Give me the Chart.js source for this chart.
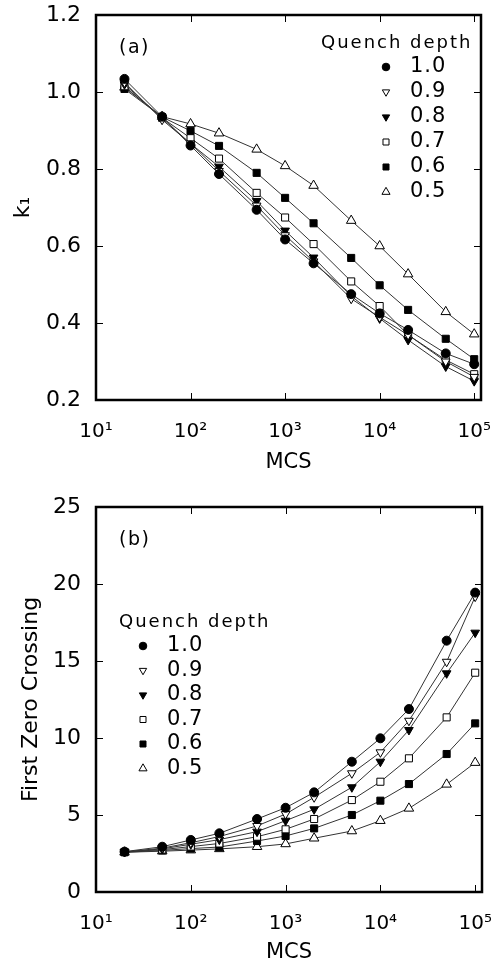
<!DOCTYPE html>
<html>
<head>
<meta charset="utf-8">
<script src="https://cdn.jsdelivr.net/npm/chart.js@4.4.0/dist/chart.umd.min.js"></script>
<style>
  html, body { margin: 0; padding: 0; background: #fff; }
  canvas { display: block; }
</style>
</head>
<body>
<canvas id="panelA" width="497" height="482"></canvas>
<canvas id="panelB" width="497" height="483"></canvas>
<script>
// --- Data ---
const mcs = [20, 50, 100, 200, 500, 1000, 2000, 5000, 10000, 20000, 50000, 100000];
const depths = ["1.0", "0.9", "0.8", "0.7", "0.6", "0.5"];
const decadeTicks = [10, 100, 1000, 10000, 100000];

// (a) k1 vs MCS
const k1_d10 = [1.034, 0.936, 0.861, 0.787, 0.694, 0.617, 0.555, 0.475, 0.425, 0.382, 0.321, 0.293];
const k1_d09 = [1.025, 0.928, 0.866, 0.795, 0.705, 0.628, 0.560, 0.463, 0.415, 0.369, 0.300, 0.260];
const k1_d08 = [1.020, 0.932, 0.866, 0.806, 0.717, 0.640, 0.570, 0.470, 0.412, 0.356, 0.287, 0.249];
const k1_d07 = [1.015, 0.933, 0.880, 0.827, 0.738, 0.674, 0.605, 0.508, 0.444, 0.369, 0.304, 0.267];
const k1_d06 = [1.008, 0.935, 0.899, 0.860, 0.790, 0.725, 0.659, 0.569, 0.498, 0.434, 0.359, 0.306];
const k1_d05 = [1.012, 0.936, 0.917, 0.893, 0.851, 0.808, 0.757, 0.666, 0.600, 0.527, 0.429, 0.371];

// (b) first zero crossing vs MCS
const fz_d10 = [2.62, 2.94, 3.38, 3.81, 4.74, 5.47, 6.47, 8.46, 9.98, 11.88, 16.32, 19.44];
const fz_d09 = [2.60, 2.85, 3.20, 3.60, 4.29, 5.06, 6.15, 7.71, 9.07, 11.12, 14.95, 19.18];
const fz_d08 = [2.60, 2.80, 3.10, 3.40, 3.92, 4.63, 5.37, 6.80, 8.46, 10.52, 14.20, 16.84];
const fz_d07 = [2.60, 2.75, 2.95, 3.15, 3.59, 4.07, 4.74, 5.97, 7.16, 8.68, 11.34, 14.24];
const fz_d06 = [2.58, 2.70, 2.82, 2.92, 3.31, 3.64, 4.13, 5.00, 5.93, 7.01, 8.96, 10.95];
const fz_d05 = [2.58, 2.65, 2.72, 2.80, 2.94, 3.12, 3.49, 3.96, 4.63, 5.43, 6.99, 8.40];

// --- Marker look for each quench depth ---
const markers = [
  { style: "circle",   fill: true,  r: 4.5, rot: 0 },
  { style: "triangle", fill: false, r: 5,   rot: 180 },
  { style: "triangle", fill: true,  r: 5,   rot: 180 },
  { style: "rect",     fill: false, r: 5,   rot: 0 },
  { style: "rect",     fill: true,  r: 5,   rot: 0 },
  { style: "triangle", fill: false, r: 5.5, rot: 0 }
];

const FONT = "'DejaVu Sans', sans-serif";
const SUP = { 1: "\u00b9", 2: "\u00b2", 3: "\u00b3", 4: "\u2074", 5: "\u2075" };

function drawMarker(ctx, m, x, y, scale) {
  const r = m.r * (scale || 1);
  ctx.beginPath();
  if (m.style === "circle") {
    ctx.arc(x, y, r, 0, Math.PI * 2);
  } else if (m.style === "rect") {
    const s = Math.SQRT1_2 * r;
    ctx.rect(x - s, y - s, 2 * s, 2 * s);
  } else {
    let a = m.rot * Math.PI / 180;
    ctx.moveTo(x + Math.sin(a) * r, y - Math.cos(a) * r);
    a += 2 * Math.PI / 3;
    ctx.lineTo(x + Math.sin(a) * r, y - Math.cos(a) * r);
    a += 2 * Math.PI / 3;
    ctx.lineTo(x + Math.sin(a) * r, y - Math.cos(a) * r);
    ctx.closePath();
  }
  ctx.fillStyle = m.fill ? "#000" : "#fff";
  ctx.fill();
  ctx.lineWidth = 1;
  ctx.strokeStyle = "#000";
  ctx.stroke();
}

// frame + inward ticks on all four sides
const framePlugin = {
  id: "frame",
  afterDatasetsDraw(chart) {
    const { ctx, chartArea: a, scales } = chart;
    ctx.save();
    ctx.strokeStyle = "#000";
    ctx.lineWidth = 1;
    const len = 7;
    ctx.beginPath();
    scales.x.ticks.forEach(t => {
      const px = Math.round(scales.x.getPixelForValue(t.value)) + 0.5;
      ctx.moveTo(px, a.bottom); ctx.lineTo(px, a.bottom - len);
      ctx.moveTo(px, a.top); ctx.lineTo(px, a.top + len);
    });
    scales.y.ticks.forEach(t => {
      const py = Math.round(scales.y.getPixelForValue(t.value)) + 0.5;
      ctx.moveTo(a.left, py); ctx.lineTo(a.left + len, py);
      ctx.moveTo(a.right, py); ctx.lineTo(a.right - len, py);
    });
    ctx.stroke();
    ctx.lineWidth = 2.5;
    ctx.strokeRect(a.left, a.top, a.right - a.left, a.bottom - a.top);
    ctx.restore();
  }
};

// in-plot legend ("Quench depth") and panel tag
const legendPlugin = {
  id: "quench",
  afterDraw(chart, args, o) {
    const ctx = chart.ctx;
    ctx.save();
    ctx.fillStyle = "#000";
    ctx.textBaseline = "middle";
    ctx.textAlign = "left";
    ctx.letterSpacing = "1.5px";
    ctx.font = "19px " + FONT;
    ctx.fillText(o.tag, o.tagX, o.tagY);
    ctx.font = "18px " + FONT;
    ctx.letterSpacing = "2px";
    ctx.fillText("Quench depth", o.titleX, o.titleY);
    ctx.font = "21px " + FONT;
    ctx.letterSpacing = "1px";
    depths.forEach((d, i) => {
      const y = o.y0 + i * o.step;
      drawMarker(ctx, markers[i], o.markerX, y, 0.85);
      ctx.fillStyle = "#000";
      ctx.fillText(d, o.textX, y);
    });
    ctx.restore();
  }
};

function buildDatasets(series) {
  return series.map((vals, i) => ({
    label: depths[i],
    data: mcs.map((x, j) => ({ x: x, y: vals[j] })),
    borderColor: "#333",
    borderWidth: 1,
    pointStyle: markers[i].style,
    pointRotation: markers[i].rot,
    pointRadius: markers[i].r,
    pointHoverRadius: markers[i].r,
    pointBackgroundColor: markers[i].fill ? "#000" : "#fff",
    pointBorderColor: "#000",
    pointBorderWidth: 1,
    tension: 0,
    clip: false
  }));
}

function makePanel(id, cfg) {
  const ctx = document.getElementById(id).getContext("2d");
  return new Chart(ctx, {
    type: "line",
    data: { datasets: buildDatasets(cfg.series) },
    options: {
      responsive: false,
      animation: false,
      devicePixelRatio: 1,
      layout: { padding: { top: cfg.top, right: cfg.right, left: 0, bottom: 0 } },
      plugins: {
        legend: { display: false },
        tooltip: { enabled: false },
        quench: cfg.legend
      },
      scales: {
        x: {
          type: "logarithmic",
          min: 10,
          max: 118000,
          grid: { display: false, drawTicks: false },
          border: { display: false },
          afterBuildTicks: s => { s.ticks = decadeTicks.map(v => ({ value: v })); },
          afterFit: s => { s.height = cfg.xHeight; s.paddingLeft = 0; s.paddingRight = 0; },
          ticks: {
            color: "#000",
            padding: 20,
            maxRotation: 0,
            autoSkip: false,
            font: { family: FONT, size: 20 },
            callback: v => "10" + SUP[Math.round(Math.log10(v))]
          },
          title: {
            display: true,
            text: "MCS",
            color: "#000",
            font: { family: FONT, size: 21 },
            padding: { top: 0, bottom: cfg.xTitlePad }
          }
        },
        y: {
          min: cfg.yMin,
          max: cfg.yMax,
          grid: { display: false, drawTicks: false },
          border: { display: false },
          afterFit: s => { s.width = 96; s.paddingTop = 0; s.paddingBottom = 0; },
          ticks: {
            color: "#000",
            padding: 15,
            stepSize: cfg.yStep,
            font: { family: FONT, size: 22 },
            callback: cfg.yFmt
          },
          title: {
            display: true,
            text: cfg.yTitle,
            color: "#000",
            font: { family: FONT, size: 22 },
            padding: { top: cfg.yTitlePad, bottom: 0 }
          }
        }
      }
    },
    plugins: [framePlugin, legendPlugin]
  });
}

makePanel("panelA", {
  series: [k1_d10, k1_d09, k1_d08, k1_d07, k1_d06, k1_d05],
  top: 15, right: 16, xHeight: 82, xTitlePad: 7,
  yMin: 0.2, yMax: 1.2, yStep: 0.2,
  yFmt: v => v.toFixed(1),
  yTitle: "k\u2081", yTitlePad: 10,
  legend: { tag: "(a)", tagX: 119, tagY: 48, titleX: 321, titleY: 43,
            markerX: 386, textX: 410, y0: 67, step: 25 }
});

makePanel("panelB", {
  series: [fz_d10, fz_d09, fz_d08, fz_d07, fz_d06, fz_d05],
  top: 25, right: 15, xHeight: 73, xTitlePad: 0,
  yMin: 0, yMax: 25, yStep: 5,
  yFmt: v => String(Math.round(v)),
  yTitle: "First Zero Crossing", yTitlePad: 18,
  legend: { tag: "(b)", tagX: 119, tagY: 58, titleX: 119, titleY: 140,
            markerX: 143, textX: 167, y0: 164, step: 24.5 }
});
</script>
</body>
</html>
